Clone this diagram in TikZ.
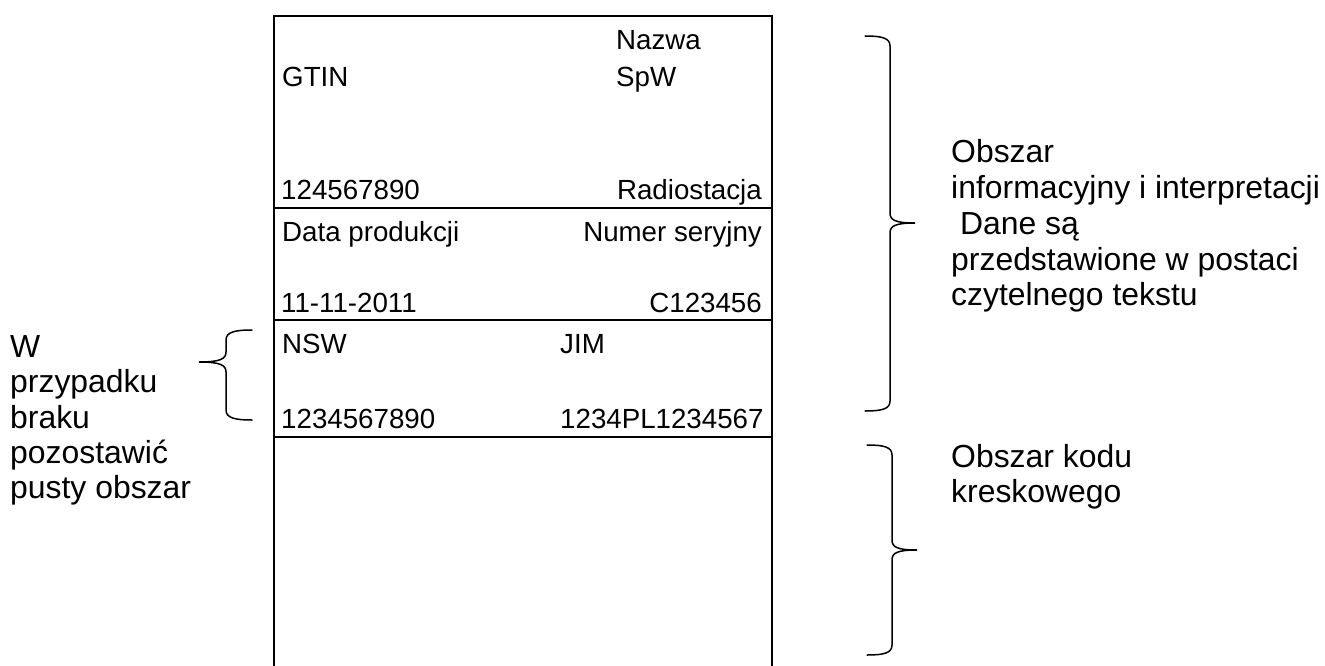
\documentclass[tikz,border=0pt]{standalone}
\usepackage{fontspec}
\setmainfont{Liberation Sans}
\begin{document}
\begin{tikzpicture}[x=1pt,y=-1pt,
  boxtxt/.style={inner sep=0pt, font=\fontsize{27.7}{33}\selectfont},
  sidetxt/.style={inner sep=0pt, anchor=base west, font=\fontsize{31.9}{35.5}\selectfont},
  frame/.style={line width=1.8pt},
  brace/.style={line width=1.5pt, line cap=round}]
\useasboundingbox (0,0) rectangle (1325,666);
% frame
\draw[frame] (274,672) -- (274,16) -- (772,16) -- (772,672);
\draw[frame] (274,208) -- (772,208);
\draw[frame] (274,320) -- (772,320);
\draw[frame] (274,437) -- (772,437);
% box texts
\node[boxtxt, anchor=base west] (gtin) at (282,87) {GTIN};
\node[boxtxt, anchor=base west] (nazwa) at (616,50) {Nazwa};
\node[boxtxt, anchor=base west] (spw) at (616,87) {SpW};
\node[boxtxt, anchor=base west] (gtinv) at (281,199) {124567890};
\node[boxtxt, anchor=base east] (radio) at (762,199) {Radiostacja};
\node[boxtxt, anchor=base west] (data) at (282,241) {Data produkcji};
\node[boxtxt, anchor=base east] (numer) at (762,241) {Numer seryjny};
\node[boxtxt, anchor=base west] (datav) at (281,312) {11-11-2011};
\node[boxtxt, anchor=base east] (numerv) at (762,312) {C123456};
\node[boxtxt, anchor=base west] (nsw) at (282,353) {NSW};
\node[boxtxt, anchor=base west] (jim) at (560,353) {JIM};
\node[boxtxt, anchor=base west] (nswv) at (281,428) {1234567890};
\node[boxtxt, anchor=base west] (jimv) at (560,428) {1234PL1234567};
% right brace 1
\draw[brace] (865,36) .. controls (882,36) and (890,38) .. (890,46) -- (890,213)
  .. controls (890,220) and (895,223) .. (915,223)
  .. controls (895,223) and (890,226) .. (890,233) -- (890,401)
  .. controls (890,409) and (882,411) .. (865,411);
% right brace 2
\draw[brace] (867,445) .. controls (884,445) and (892,447) .. (892,455) -- (892,540)
  .. controls (892,547) and (897,550) .. (917,550)
  .. controls (897,550) and (892,553) .. (892,560) -- (892,645)
  .. controls (892,653) and (884,655) .. (867,655);
% left brace
\draw[brace] (252,330) .. controls (235,330) and (226,332) .. (226,340) -- (226,352)
  .. controls (226,359) and (220,362) .. (199,362)
  .. controls (220,362) and (226,365) .. (226,372) -- (226,410)
  .. controls (226,418) and (235,420) .. (252,420);
% side texts
\node[sidetxt] (o1) at (951,163) {Obszar};
\node[sidetxt] (o2) at (951,198) {informacyjny i interpretacji};
\node[sidetxt] (o3) at (951,234) {\ Dane są};
\node[sidetxt] (o4) at (951,270) {przedstawione w postaci};
\node[sidetxt] (o5) at (951,305) {czytelnego tekstu};
\node[sidetxt] (k1) at (951,467) {Obszar kodu};
\node[sidetxt] (k2) at (951,502) {kreskowego};
\node[sidetxt] (w1) at (10,357) {W};
\node[sidetxt] (w2) at (10,392) {przypadku};
\node[sidetxt] (w3) at (10,428) {braku};
\node[sidetxt] (w4) at (10,463) {pozostawić};
\node[sidetxt] (w5) at (10,498) {pusty obszar};
\end{tikzpicture}
\end{document}
